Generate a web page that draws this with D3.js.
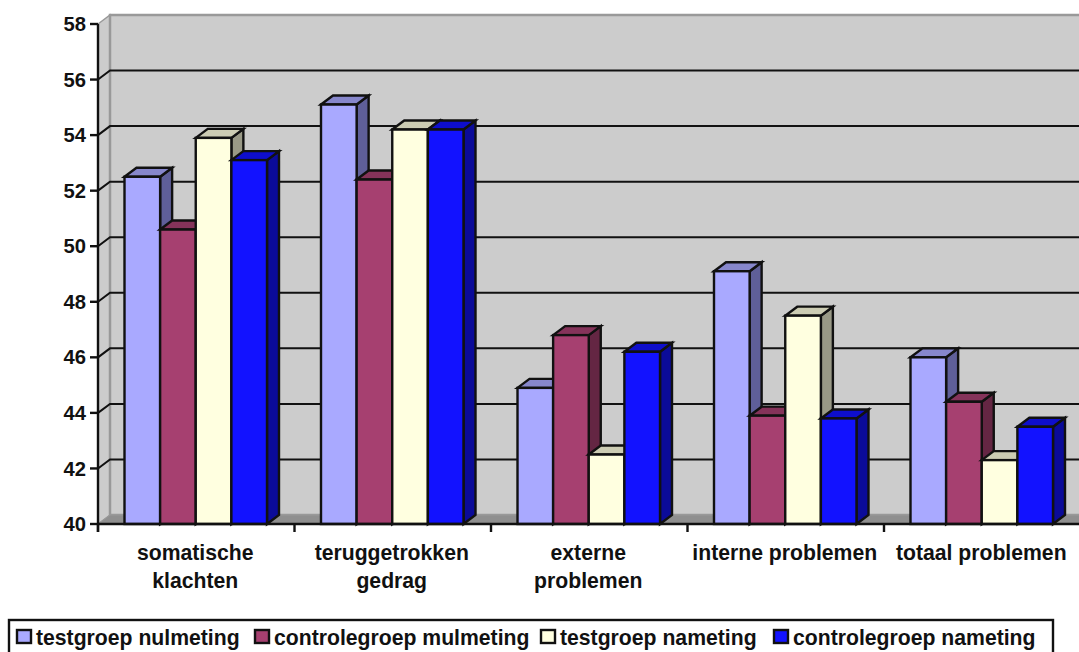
<!DOCTYPE html>
<html>
<head>
<meta charset="utf-8">
<script src="https://cdnjs.cloudflare.com/ajax/libs/d3/7.8.5/d3.min.js"></script>
<style>
html, body { margin: 0; padding: 0; background: #fff; }
svg { display: block; }
text { font-family: "Liberation Sans", Arial, sans-serif; font-weight: bold; fill: #111; }
</style>
</head>
<body>
<svg id="chart" width="1079" height="652"></svg>
<script>
const categories = [["somatische", "klachten"], ["teruggetrokken", "gedrag"], ["externe", "problemen"], ["interne problemen"], ["totaal problemen"]];
const seriesNames = ["testgroep nulmeting", "controlegroep mulmeting", "testgroep nameting", "controlegroep nameting"];
const testNul = [52.5, 55.1, 44.9, 49.1, 46.0];
const controlNul = [50.6, 52.4, 46.8, 43.9, 44.4];
const testNa = [53.9, 54.2, 42.5, 47.5, 42.3];
const controlNa = [53.1, 54.2, 46.2, 43.8, 43.5];
const seriesValues = [testNul, controlNul, testNa, controlNa];
const frontColors = ["#a9a9ff", "#a64070", "#ffffe0", "#1212ff"];
const topColors = ["#8787cc", "#85335a", "#ccccb3", "#0e0ecc"];
const sideColors = ["#5f5f99", "#642643", "#999986", "#0b0b99"];
const yTicks = d3.range(40, 59, 2);

const svg = d3.select("#chart");
const ink = "#111";
const dx = 12, dy = -9;
const plotLeft = 98, plotRight = 1080, plotTop = 24, plotBottom = 524;
const labelSize = 21.2;

const y = d3.scaleLinear().domain([40, 58]).range([plotBottom, plotTop]);
const xBand = d3.scaleBand().domain(d3.range(categories.length)).range([plotLeft, plotRight + 0.5]);
const xBar = d3.scaleBand().domain(d3.range(seriesNames.length)).range([26.5, xBand.bandwidth() - 27.5]);

// Side wall, back wall and floor of the 3D box
svg.append("polygon")
  .attr("points", [[plotLeft, plotBottom], [plotLeft, plotTop], [plotLeft + dx, plotTop + dy], [plotLeft + dx, plotBottom + dy]].join(" "))
  .attr("fill", "#cccccc").attr("stroke", "#999").attr("stroke-width", 1.5);
svg.append("rect")
  .attr("x", plotLeft + dx).attr("y", plotTop + dy).attr("width", plotRight - plotLeft).attr("height", plotBottom - plotTop)
  .attr("fill", "#cccccc").attr("stroke", "#999").attr("stroke-width", 2.5);
svg.append("polygon")
  .attr("points", [[plotLeft, plotBottom], [plotLeft + dx, plotBottom + dy], [plotRight + dx, plotBottom + dy], [plotRight, plotBottom]].join(" "))
  .attr("fill", "#8f8f8f").attr("stroke", "#999").attr("stroke-width", 1);

// Gridlines run along the back wall and fold onto the side wall
const grid = svg.append("g").attr("fill", "none").attr("stroke", ink).attr("stroke-width", 2);
yTicks.filter(t => t > 40 && t < 58).forEach(t => {
  grid.append("polyline")
    .attr("points", [[plotLeft, y(t)], [plotLeft + dx, y(t) + dy], [plotRight, y(t) + dy]].join(" "));
});

// Bars are painted left to right so each one covers its neighbour's side face
const groups = svg.append("g").selectAll("g").data(categories).join("g")
  .attr("transform", (d, i) => `translate(${xBand(i)},0)`);
groups.each(function (c, ci) {
  const g = d3.select(this);
  seriesValues.forEach((vals, si) => {
    const x0 = xBar(si), x1 = x0 + xBar.bandwidth(), yt = y(vals[ci]);
    const face = g.append("g").attr("stroke", ink).attr("stroke-width", 2.4).attr("stroke-linejoin", "miter");
    face.append("polygon")
      .attr("points", [[x1, yt], [x1 + dx, yt + dy], [x1 + dx, plotBottom + dy], [x1, plotBottom]].join(" "))
      .attr("fill", sideColors[si]);
    face.append("polygon")
      .attr("points", [[x0, yt], [x0 + dx, yt + dy], [x1 + dx, yt + dy], [x1, yt]].join(" "))
      .attr("fill", topColors[si]);
    face.append("rect")
      .attr("x", x0).attr("y", yt).attr("width", xBar.bandwidth()).attr("height", plotBottom - yt)
      .attr("fill", frontColors[si]);
  });
});

// Value axis
const yAxis = svg.append("g").attr("stroke", ink).attr("stroke-width", 2.4);
yAxis.append("line").attr("x1", plotLeft).attr("x2", plotLeft).attr("y1", plotTop).attr("y2", plotBottom + 8);
yAxis.selectAll("line.tick").data(yTicks).join("line").attr("class", "tick")
  .attr("x1", plotLeft - 8).attr("x2", plotLeft).attr("y1", d => y(d)).attr("y2", d => y(d));
svg.append("g").selectAll("text").data(yTicks).join("text")
  .attr("x", plotLeft - 12).attr("y", d => y(d)).attr("dy", "0.35em")
  .attr("text-anchor", "end").attr("font-size", labelSize - 1).text(d => d);

// Category axis
const xAxis = svg.append("g").attr("stroke", ink).attr("stroke-width", 2.4);
xAxis.append("line").attr("x1", plotLeft).attr("x2", plotRight).attr("y1", plotBottom).attr("y2", plotBottom);
xAxis.selectAll("line.tick").data(d3.range(categories.length + 1)).join("line").attr("class", "tick")
  .attr("x1", i => plotLeft + i * xBand.bandwidth()).attr("x2", i => plotLeft + i * xBand.bandwidth())
  .attr("y1", plotBottom).attr("y2", plotBottom + 8);
const catLabels = svg.append("g").selectAll("text").data(categories).join("text")
  .attr("text-anchor", "middle").attr("font-size", labelSize);
catLabels.each(function (lines, i) {
  d3.select(this).selectAll("tspan").data(lines).join("tspan")
    .attr("x", xBand(i) + xBand.bandwidth() / 2 - 1)
    .attr("y", (d, k) => 560 + k * 28)
    .text(d => d);
});

// Legend
const legendY = 637;
svg.append("rect").attr("x", 9).attr("y", 620).attr("width", 1044).attr("height", 40)
  .attr("fill", "#fff").attr("stroke", ink).attr("stroke-width", 2.4);
const legendSwatchX = [17, 255, 541, 774];
const legend = svg.append("g").selectAll("g").data(seriesNames).join("g");
legend.append("rect")
  .attr("x", (d, i) => legendSwatchX[i]).attr("y", legendY - 7).attr("width", 14).attr("height", 13)
  .attr("fill", (d, i) => frontColors[i]).attr("stroke", ink).attr("stroke-width", 2.4);
legend.append("text")
  .attr("x", (d, i) => legendSwatchX[i] + 19).attr("y", legendY + 1).attr("dy", "0.35em")
  .attr("font-size", labelSize).text(d => d);
</script>
</body>
</html>
